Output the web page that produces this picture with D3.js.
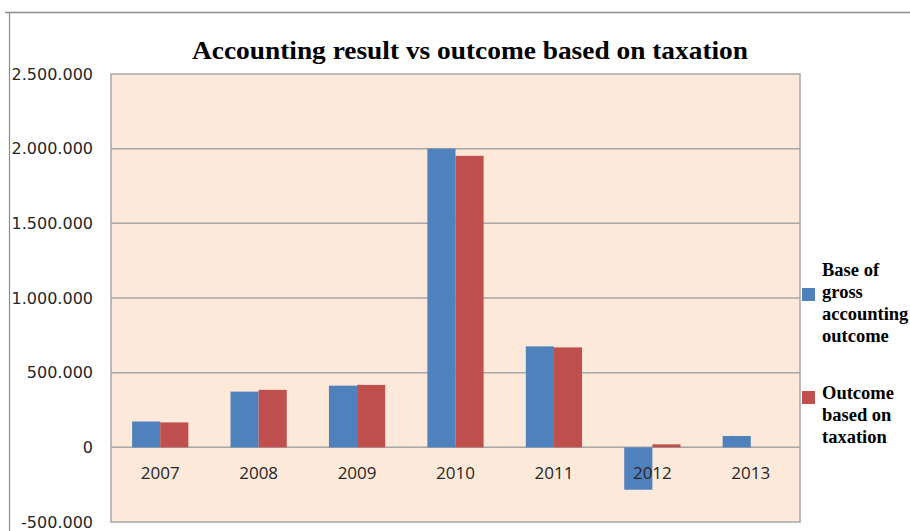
<!DOCTYPE html>
<html>
<head>
<meta charset="utf-8">
<script src="https://cdn.jsdelivr.net/npm/d3@7"></script>
<style>
  html, body { margin: 0; padding: 0; background: #fff; }
  svg { display: block; }
</style>
</head>
<body>
<svg id="chart" width="910" height="531"></svg>
<script>
// Yearly figures
const years = ["2007", "2008", "2009", "2010", "2011", "2012", "2013"];
const grossAccounting = [173000, 373000, 413000, 2000000, 676000, -284000, 76000];
const taxationOutcome = [167000, 385000, 418000, 1952000, 669000, 20000, 0];
const seriesNames = [["Base of", "gross", "accounting", "outcome"], ["Outcome", "based on", "taxation"]];
const seriesColors = ["#4F81BD", "#C0504D"];
const yTicks = [-500000, 0, 500000, 1000000, 1500000, 2000000, 2500000];

const svg = d3.select("#chart");
const plot = { left: 111, right: 800, top: 74, bottom: 522 };

// Outer frame lines
svg.append("line").attr("x1", 5).attr("x2", 910).attr("y1", 12.5).attr("y2", 12.5)
  .attr("stroke", "#8c8c8c").attr("stroke-width", 1.5);
svg.append("line").attr("x1", 9.5).attr("x2", 9.5).attr("y1", 12).attr("y2", 531)
  .attr("stroke", "#8c8c8c").attr("stroke-width", 1.2);

const x = d3.scaleBand().domain(years).range([plot.left, plot.right]).paddingInner(0).paddingOuter(0);
const y = d3.scaleLinear().domain([-500000, 2500000]).range([plot.bottom, plot.top]);

// Plot background
svg.append("rect")
  .attr("x", plot.left).attr("y", plot.top)
  .attr("width", plot.right - plot.left).attr("height", plot.bottom - plot.top)
  .attr("fill", "#FDE9D9").attr("stroke", "#a6a6a6").attr("stroke-width", 1.5);

// Gridlines
svg.append("g").selectAll("line").data(yTicks.filter(t => t > -500000 && t < 2500000)).join("line")
  .attr("x1", plot.left).attr("x2", plot.right)
  .attr("y1", d => y(d)).attr("y2", d => y(d))
  .attr("stroke", "#a6a6a6").attr("stroke-width", 1.5);

// Y axis labels
const fmt = v => d3.format(",")(v).replace(/,/g, ".").replace("−", "-");
const yAxis = d3.axisLeft(y).tickValues(yTicks).tickSize(0).tickPadding(0).tickFormat(fmt);
const gy = svg.append("g").attr("transform", "translate(93,0)").call(yAxis);
gy.select(".domain").remove();
gy.selectAll("text").attr("font-family", "DejaVu Sans").attr("font-size", 16).attr("fill", "#262626");

// Bars
const inner = x.bandwidth() * 0.5714;
const xs = d3.scaleBand().domain([0, 1]).range([0, inner]);
const groups = svg.append("g").selectAll("g").data(years).join("g")
  .attr("transform", d => `translate(${x(d) + (x.bandwidth() - inner) / 2},0)`);
[grossAccounting, taxationOutcome].forEach((vals, s) => {
  groups.append("rect")
    .attr("x", xs(s))
    .attr("width", xs.bandwidth())
    .attr("y", (d, i) => Math.min(y(vals[i]), y(0)))
    .attr("height", (d, i) => Math.abs(y(vals[i]) - y(0)))
    .attr("fill", seriesColors[s]);
});

// Category labels
const xAxis = d3.axisBottom(x).tickSize(0).tickPadding(0);
const gx = svg.append("g").attr("transform", `translate(0,${y(0) + 20})`).call(xAxis);
gx.select(".domain").remove();
gx.selectAll("text").attr("font-family", "Open Sans").attr("font-size", 17).attr("fill", "#262626");

// Title
svg.append("text").attr("x", 470).attr("y", 59)
  .attr("text-anchor", "middle")
  .attr("font-family", "Liberation Serif").attr("font-weight", "bold").attr("font-size", 26)
  .attr("textLength", 556).attr("lengthAdjust", "spacingAndGlyphs")
  .attr("fill", "#000")
  .text("Accounting result vs outcome based on taxation");

// Legend
const legendTop = [276, 399];
const swatchTop = [288, 391];
seriesNames.forEach((lines, s) => {
  svg.append("rect").attr("x", 802).attr("y", swatchTop[s]).attr("width", 13).attr("height", 13)
    .attr("fill", seriesColors[s]);
  const t = svg.append("text").attr("x", 822).attr("y", legendTop[s])
    .attr("font-family", "Liberation Serif").attr("font-weight", "bold").attr("font-size", 18.5).attr("fill", "#000");
  lines.forEach((ln, i) => t.append("tspan").attr("x", 822).attr("dy", i === 0 ? 0 : 22).text(ln));
});
</script>
</body>
</html>
